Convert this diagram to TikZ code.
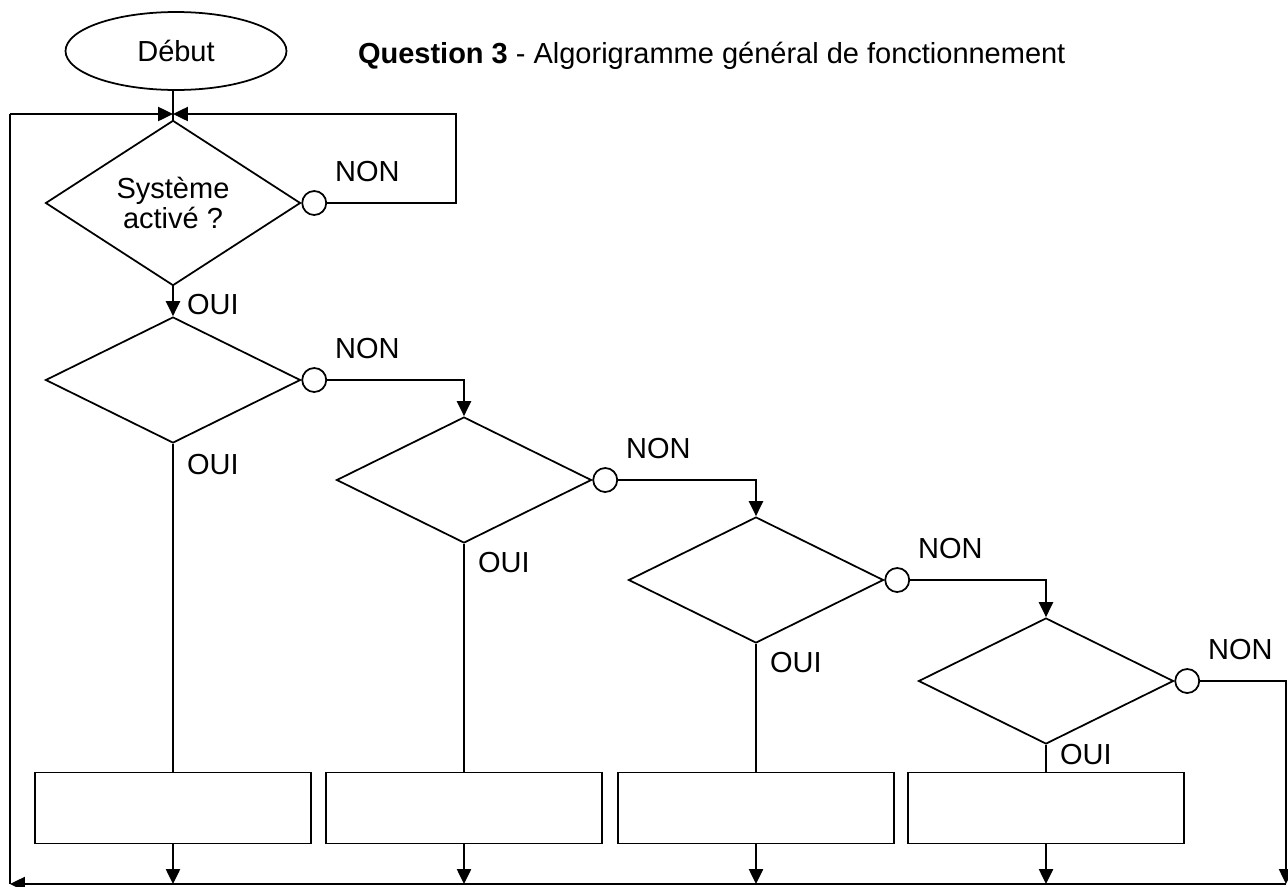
\documentclass[tikz,border=0pt]{standalone}
\usepackage{fontspec}
\setmainfont{Liberation Sans}
\usepackage{tikz}
\usetikzlibrary{shapes,arrows.meta,positioning,calc}

\tikzset{
  every node/.style={font=\fontsize{16.5}{17.5}\selectfont},
  decision/.style={diamond, draw, line width=1pt, minimum width=5.1cm, minimum height=2.52cm, inner sep=0pt, align=center},
  nonbulle/.style={circle, draw, fill=white, line width=1pt, minimum size=0.48cm, inner sep=0pt, anchor=west},
  action/.style={rectangle, draw, line width=1.1pt, minimum width=5.52cm, minimum height=1.42cm},
  etiq/.style={inner sep=0pt, anchor=west}
}

\begin{document}
\begin{tikzpicture}[x=0.02cm, y=0.02cm, line width=1.2pt, >={Triangle[length=8.5pt,width=8pt]}]
        \useasboundingbox (0,0) rectangle (1288,-886);

        \node[ellipse, draw, line width=1pt, minimum width=4.42cm, minimum height=1.56cm] (debut) at (176,-51) {Début};
        \node[inner sep=0pt, anchor=base west] (titre) at (357,-63) {\textbf{Question 3} - Algorigramme général de fonctionnement};

        \node[decision] (d1) at (173,-203) {Système\\activé ?};
        \node[decision] (d2) at (173,-380) {};
        \node[decision] (d3) at (464,-480) {};
        \node[decision] (d4) at (756,-580) {};
        \node[decision] (d5) at (1046,-681) {};

        \node[action] (b1) at (173,-808) {};
        \node[action] (b2) at (464,-808) {};
        \node[action] (b3) at (756,-808) {};
        \node[action] (b4) at (1046,-808) {};

        \foreach \d in {1,...,5} {
            \node[nonbulle] (c\d) at (d\d.east) {};
            \node[etiq] (non\d) at ([shift={(7,31)}]c\d.east) {NON};
        }

        \node[etiq] (oui1) at ([shift={(13,-18)}]d1.south) {OUI};
        \node[etiq] (oui2) at ([shift={(13,-21)}]d2.south) {OUI};
        \node[etiq] (oui3) at ([shift={(13,-19)}]d3.south) {OUI};
        \node[etiq] (oui4) at ([shift={(13,-19)}]d4.south) {OUI};
        \node[etiq] (oui5) at ([shift={(13,-10)}]d5.south) {OUI};

        \coordinate (jonction) at (173,-114);
        \coordinate (retour) at (456,-114);
        \coordinate (coinhaut) at (10,-114);
        \coordinate (coinbas) at (10,-884);
        \coordinate (coindroit) at (1286,-884);

        \draw (debut.south -| d1.north) -- (d1.north);
        \draw[->] (coinhaut) -- (jonction);
        \draw[->] (c1.east) -| (retour) -- (jonction);
        \draw[->] (d1.south) -- (d2.north);

        \draw[->] (c2.east) -| (d3.north);
        \draw[->] (c3.east) -| (d4.north);
        \draw[->] (c4.east) -| (d5.north);
        \draw[->] (c5.east) -| (coindroit);

        \foreach \i/\j in {2/1,3/2,4/3,5/4}
            \draw (d\i.south) -- (b\j.north);
        \foreach \j in {1,...,4}
            \draw[->] (b\j.south) -- (b\j.south |- coinbas);

        \draw[->] (coindroit) -- (coinbas);
        \draw (coinbas) -- (coinhaut);
    \end{tikzpicture}
\end{document}
